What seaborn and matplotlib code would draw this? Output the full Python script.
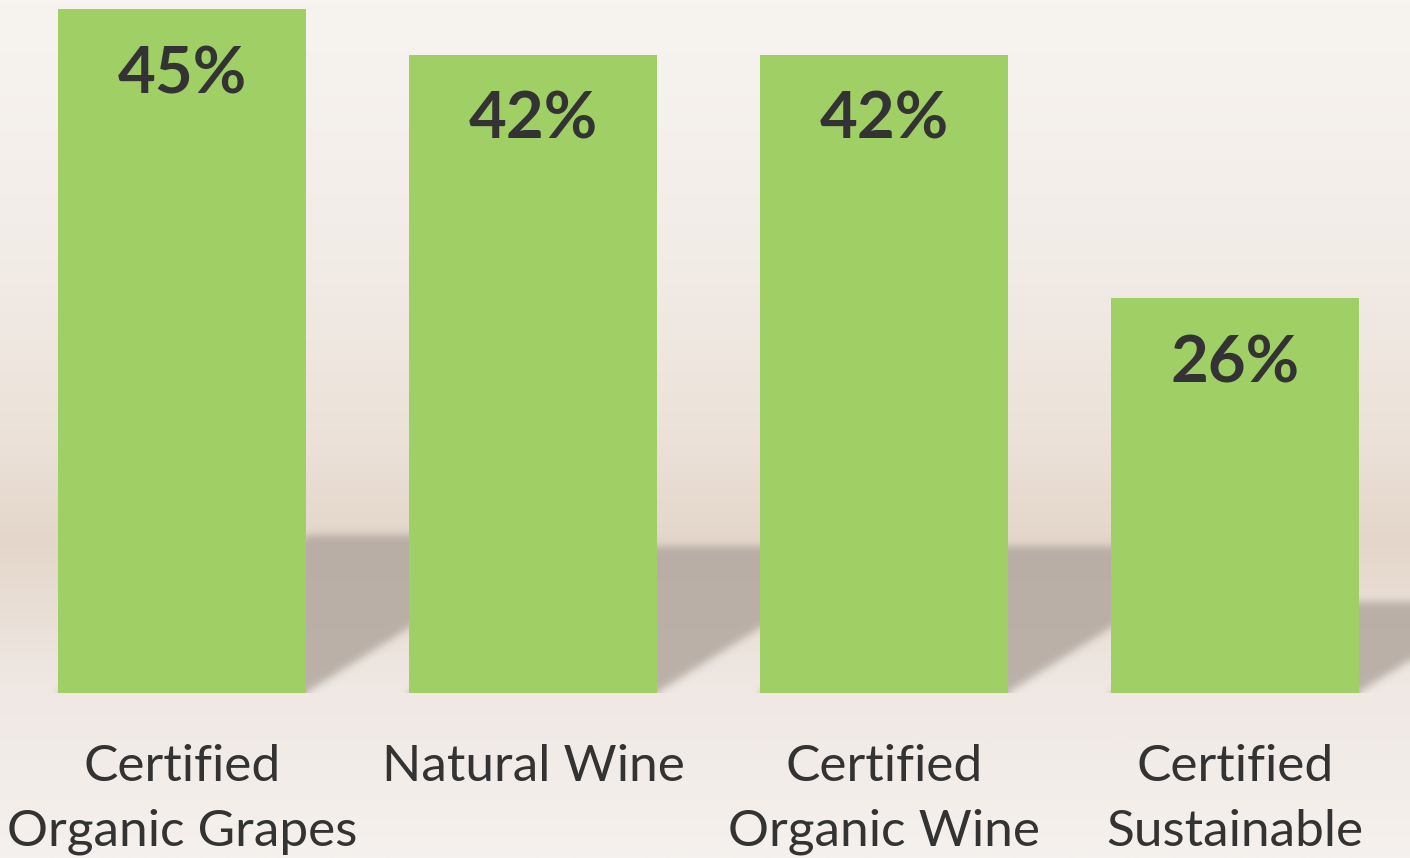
import numpy as np
import pandas as pd
import matplotlib
matplotlib.use("Agg")
import matplotlib.pyplot as plt
from matplotlib.colors import LinearSegmentedColormap, to_rgb
import seaborn as sns

categories = ["Certified\nOrganic Grapes", "Natural Wine", "Certified\nOrganic Wine", "Certified\nSustainable"]
values = [45, 42, 42, 26]
value_labels = ["45%", "42%", "42%", "26%"]

BAR_COLOR = "#a0cf65"
TEXT_COLOR = "#333333"
SHADOW_COLOR = "#b2a79f"

sns.set_theme(style="white")
plt.rcParams["font.family"] = ["Lato", "DejaVu Sans"]

W_PX, H_PX = 1410, 858
FLOOR_PX = 693
fig = plt.figure(figsize=(W_PX / 100, H_PX / 100), dpi=100)

# soft studio-style backdrop: light top, warm band near the floor, light bottom
bg = fig.add_axes([0, 0, 1, 1], zorder=0)
stops = [(0.0, "#f7f4f0"), (0.30, "#f2ece7"), (0.52, "#ebe1d8"),
         (0.63, "#e4d6ca"), (0.80, "#efe8e3"), (1.0, "#f5f1ee")]
cmap = LinearSegmentedColormap.from_list("backdrop", stops)
grad = np.linspace(0, 1, 512).reshape(-1, 1)
bg.imshow(grad, cmap=cmap, aspect="auto", extent=[0, 1, 1, 0])
bg.set_axis_off()

floor_frac = 1 - FLOOR_PX / H_PX
ax = fig.add_axes([0, floor_frac, 1, 1 - floor_frac], zorder=1)
ax.patch.set_alpha(0)

df = pd.DataFrame({"category": categories, "value": values})
sns.barplot(data=df, x="category", y="value", color=BAR_COLOR, width=0.707,
            saturation=1, ax=ax, zorder=3)
for p in ax.patches:
    p.set_edgecolor("none")

XLIM = (-0.5185, 3.4986)
YLIM = (0, 45.59)
ax.set_xlim(*XLIM)
ax.set_ylim(*YLIM)

# cast shadows on the backdrop: each bar sheared to the right and squashed,
# rasterised on the axes pixel grid and softened with a gaussian blur
nx, ny = W_PX, FLOOR_PX
xs = np.linspace(XLIM[0], XLIM[1], nx)
ys = np.linspace(YLIM[1], YLIM[0], ny)
X, Y = np.meshgrid(xs, ys)
mask = np.zeros_like(X)
shade_ratio = 0.23
px_per_x = nx / (XLIM[1] - XLIM[0])
px_per_y = ny / (YLIM[1] - YLIM[0])
for p in ax.patches:
    x0, w, h = p.get_x(), p.get_width(), p.get_height()
    sh = shade_ratio * h
    slope = (px_per_y * 1.587) / px_per_x  # x shift per unit of y
    left = x0 + Y * slope
    inside = (Y >= 0) & (Y <= sh) & (X >= left) & (X <= left + w)
    mask = np.maximum(mask, inside.astype(float))

def blur(a, sigma, axis):
    r = int(3 * sigma)
    k = np.exp(-0.5 * (np.arange(-r, r + 1) / sigma) ** 2)
    k /= k.sum()
    return np.apply_along_axis(lambda v: np.convolve(np.pad(v, r, mode="edge"), k, mode="valid"), axis, a)

mask = blur(blur(mask, 4.0, 0), 4.0, 1)
rgba = np.zeros((ny, nx, 4))
rgba[..., :3] = to_rgb(SHADOW_COLOR)
rgba[..., 3] = mask * 0.85
ax.imshow(rgba, extent=[XLIM[0], XLIM[1], YLIM[0], YLIM[1]], aspect="auto",
          zorder=2, interpolation="bilinear")
ax.set_xlim(*XLIM)
ax.set_ylim(*YLIM)

for i, (v, lab) in enumerate(zip(values, value_labels)):
    ax.text(i, v - 5.55, lab, ha="center", va="baseline", fontsize=47,
            fontweight="bold", color=TEXT_COLOR, zorder=4)

ax.set_xlabel("")
ax.set_ylabel("")
ax.set_yticks([])
ax.tick_params(axis="x", length=0, pad=37, labelsize=37, colors=TEXT_COLOR)
for t in ax.get_xticklabels():
    t.set_linespacing(1.5)
sns.despine(ax=ax, left=True, bottom=True)

fig.savefig("out.png", dpi=100)
